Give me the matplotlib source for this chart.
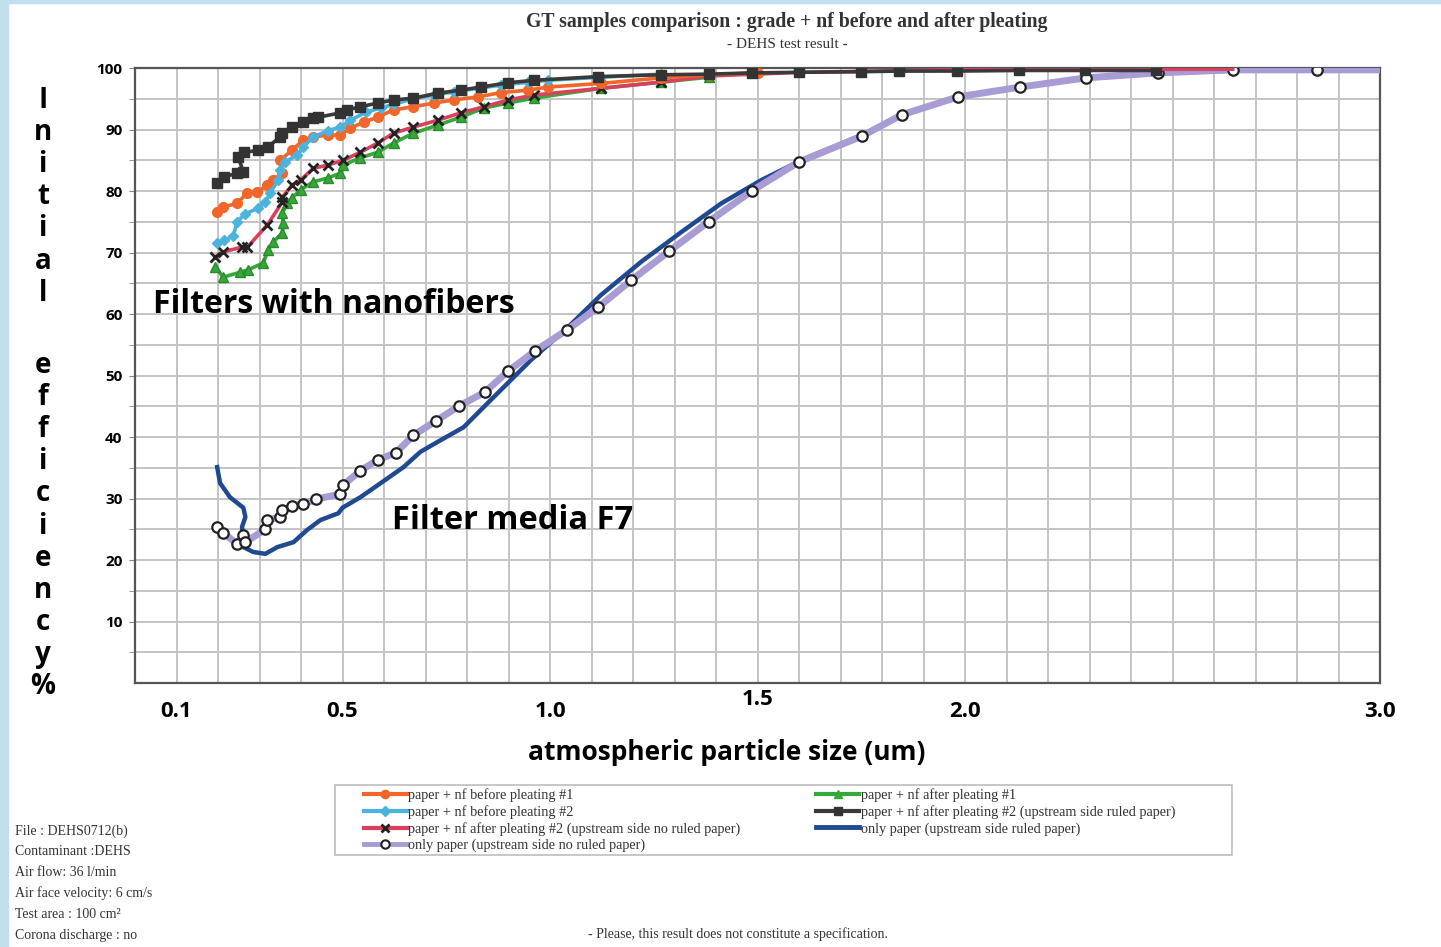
import matplotlib
matplotlib.use("Agg")
import matplotlib.pyplot as plt
from matplotlib.patches import Rectangle
from matplotlib.lines import Line2D

# data (x = particle size um, y = efficiency %)
orange_x = [0.198, 0.213, 0.246, 0.271, 0.295, 0.319, 0.333, 0.355, 0.350, 0.379, 0.406, 0.430,
            0.464, 0.495, 0.519, 0.551, 0.585, 0.623, 0.671, 0.720, 0.768, 0.826, 0.882, 0.947,
            0.995, 1.123, 1.268, 1.382, 1.50]
orange_y = [76.6, 77.4, 78.0, 79.7, 79.8, 81.0, 81.8, 82.9, 85.0, 86.7, 88.3, 88.8,
            89.1, 89.1, 90.2, 91.2, 92.0, 93.2, 93.7, 94.3, 94.8, 95.3, 96.0, 96.4,
            96.9, 97.5, 98.4, 98.9, 99.2]

cyan_x = [0.198, 0.215, 0.237, 0.246, 0.266, 0.297, 0.314, 0.326, 0.345, 0.350, 0.362, 0.391,
          0.406, 0.430, 0.464, 0.495, 0.519, 0.556, 0.592, 0.623, 0.671, 0.720, 0.768, 0.826,
          0.882, 0.947, 0.995, 1.123, 1.268]
cyan_y = [71.5, 72.0, 72.7, 75.0, 76.3, 77.2, 78.2, 79.7, 81.8, 83.4, 84.7, 85.9,
          87.2, 88.8, 89.8, 90.4, 91.5, 92.8, 93.5, 94.1, 95.0, 95.6, 96.1, 96.7,
          97.2, 97.7, 98.0, 98.5, 99.0]

crimson_x = [0.193, 0.213, 0.258, 0.271, 0.319, 0.355, 0.355, 0.379, 0.399, 0.430, 0.464, 0.502,
             0.543, 0.585, 0.623, 0.671, 0.729, 0.785, 0.841, 0.899, 0.961, 1.123, 1.268, 1.382,
             1.606, 1.98, 2.30, 2.645]
crimson_y = [69.3, 70.1, 70.9, 70.9, 74.5, 78.2, 79.0, 81.0, 81.8, 83.7, 84.2, 85.0,
             86.3, 87.8, 89.4, 90.4, 91.5, 92.7, 93.7, 94.8, 95.6, 96.7, 97.7, 98.7,
             99.3, 99.7, 99.8, 99.8]

green_x = [0.193, 0.213, 0.254, 0.273, 0.309, 0.321, 0.333, 0.355, 0.357, 0.355, 0.367, 0.379,
           0.399, 0.430, 0.464, 0.495, 0.502, 0.543, 0.585, 0.623, 0.671, 0.729, 0.785, 0.841,
           0.899, 0.961, 1.123, 1.268, 1.382]
green_y = [67.6, 66.0, 66.8, 67.2, 68.3, 70.4, 71.7, 73.2, 74.8, 76.4, 78.0, 78.9,
           80.2, 81.5, 82.1, 82.9, 84.2, 85.4, 86.3, 87.8, 89.4, 90.7, 92.0, 93.5,
           94.3, 95.1, 96.7, 97.7, 98.5]

black_x = [0.198, 0.215, 0.246, 0.261, 0.249, 0.263, 0.297, 0.321, 0.350, 0.355, 0.379, 0.406,
           0.430, 0.442, 0.495, 0.512, 0.543, 0.585, 0.623, 0.671, 0.729, 0.785, 0.833, 0.899,
           0.961, 1.116, 1.268, 1.382, 1.486, 1.60, 1.75, 1.84, 1.98, 2.13, 2.29, 2.46]
black_y = [81.3, 82.3, 82.9, 83.1, 85.5, 86.3, 86.6, 87.2, 88.8, 89.4, 90.4, 91.2,
           91.9, 92.0, 92.7, 93.2, 93.7, 94.3, 94.8, 95.1, 95.9, 96.4, 96.9, 97.6,
           98.0, 98.6, 98.9, 99.0, 99.2, 99.3, 99.4, 99.5, 99.5, 99.6, 99.6, 99.6]

purple_x = [0.198, 0.213, 0.246, 0.261, 0.266, 0.314, 0.319, 0.350, 0.355, 0.379, 0.406, 0.437,
            0.493, 0.502, 0.543, 0.585, 0.628, 0.671, 0.725, 0.780, 0.843, 0.899, 0.964, 1.041,
            1.116, 1.196, 1.287, 1.382, 1.486, 1.599, 1.751, 1.848, 1.983, 2.133, 2.292, 2.464,
            2.645, 2.848, 3.0]
purple_y = [25.4, 24.4, 22.6, 24.1, 22.9, 25.0, 26.5, 27.0, 28.1, 28.8, 29.1, 29.9,
            30.7, 32.2, 34.5, 36.3, 37.4, 40.3, 42.6, 45.0, 47.3, 50.7, 54.0, 57.4,
            61.1, 65.5, 70.2, 75.0, 80.0, 84.7, 88.9, 92.4, 95.3, 96.9, 98.4, 99.2,
            99.7, 99.7, 99.7]

blue_x = [0.198, 0.205, 0.229, 0.261, 0.266, 0.258, 0.261, 0.285, 0.314, 0.343, 0.382, 0.415,
          0.447, 0.490, 0.500, 0.543, 0.592, 0.647, 0.688, 0.737, 0.792, 0.857, 0.954, 1.041,
          1.123, 1.220, 1.316, 1.413, 1.510, 1.606, 1.751, 1.85, 1.98, 2.13, 2.29, 2.46, 2.65, 3.0]
blue_y = [35.1, 32.5, 30.2, 28.5, 27.0, 25.4, 22.1, 21.3, 21.0, 22.1, 22.9, 24.9,
          26.5, 27.6, 28.5, 30.2, 32.5, 35.1, 37.6, 39.5, 41.6, 46.0, 52.5, 57.7,
          63.1, 68.5, 73.3, 78.0, 81.8, 85.0, 89.1, 92.3, 95.2, 96.9, 98.3, 99.1, 99.6, 99.7]

xtick_vals = [0.1, 0.5, 1.0, 1.5, 2.0, 3.0]
xtick_labels = ["0.1", "0.5", "1.0", "1.5", "2.0", "3.0"]
ytick_vals = [10, 20, 30, 40, 50, 60, 70, 80, 90, 100]

legend_labels = [
    "paper + nf before pleating #1",
    "paper + nf before pleating #2",
    "paper + nf after pleating #2 (upstream side no ruled paper)",
    "only paper (upstream side no ruled paper)",
    "paper + nf after pleating #1",
    "paper + nf after pleating #2 (upstream side ruled paper)",
    "only paper (upstream side ruled paper)",
]

info_lines = ["File : DEHS0712(b)", "Contaminant :DEHS", "Air flow: 36 l/min",
              "Air face velocity: 6 cm/s", "Test area : 100 cm\u00b2", "Corona discharge : no"]

W, H = 1441, 947
fig = plt.figure(figsize=(W / 100, H / 100), dpi=100)
fig.patch.set_facecolor("white")

# light blue border of the screenshot
fig.patches.append(Rectangle((0, 0), 8 / W, 1, transform=fig.transFigure, color="#bfe0ec", zorder=0))
fig.patches.append(Rectangle((0, 1 - 3 / H), 1, 3 / H, transform=fig.transFigure, color="#bfe0ec", zorder=0))

ax = fig.add_axes([135 / W, 1 - 683 / H, (1380 - 135) / W, (683 - 68) / H])
ax.set_xlim(0, 3.0)
ax.set_ylim(0, 100)

# grid every 0.1 / 5
for gx in [i / 10 for i in range(1, 30)]:
    ax.axvline(gx, color="#c4c4c4", lw=1.4, zorder=1)
for gy in range(5, 100, 5):
    ax.axhline(gy, color="#c4c4c4", lw=1.4, zorder=1)

lw = 2.6
ax.plot(purple_x, purple_y, color="#a99bd3", lw=5, zorder=3,
        marker="o", ms=7.5, mfc="white", mec="#222222", mew=1.6,
        markevery=list(range(len(purple_x) - 1)))
ax.plot(blue_x, blue_y, color="#1f4a92", lw=3.2, zorder=2.9)
ax.plot(green_x, green_y, color="#34a838", lw=lw, zorder=4,
        marker="^", ms=7, mfc="#34a838", mec="#2a8a2c")
ax.plot(crimson_x, crimson_y, color="#d9405e", lw=lw, zorder=4.2,
        marker="x", ms=7, mec="#222222", mew=2, markevery=list(range(23)))
ax.plot(orange_x, orange_y, color="#f2662a", lw=lw, zorder=4.4,
        marker="o", ms=7, mfc="#f2662a", mec="#f2662a")
ax.plot(cyan_x, cyan_y, color="#4cb3dc", lw=lw, zorder=4.6,
        marker="D", ms=5.5, mfc="#4cb3dc", mec="#4cb3dc")
ax.plot(black_x, black_y, color="#3a3a3a", lw=lw, zorder=4.8,
        marker="s", ms=7, mfc="#333333", mec="#333333")

for s in ax.spines.values():
    s.set_color("#555555")
    s.set_linewidth(1.6)

ax.set_xticks(xtick_vals)
ax.set_xticklabels(xtick_labels)
ax.set_yticks(ytick_vals)
ax.set_yticks(range(5, 100, 10), minor=True)
ax.tick_params(axis="x", length=0, pad=13, labelsize=16)
ax.tick_params(axis="y", which="both", length=4, color="#888888", pad=5, labelsize=11)
for lab in ax.get_xticklabels():
    lab.set_fontfamily("Open Sans")
    lab.set_fontweight("bold")
for lab in ax.get_yticklabels():
    lab.set_fontfamily("Open Sans")
    lab.set_fontweight("bold")
ax.xaxis.get_major_ticks()[3].set_pad(4)

fig.text(727 / W, 1 - 752 / H, "atmospheric particle size (um)", fontfamily="Open Sans",
         fontweight="bold", fontsize=19, ha="center", va="center")

ax.text(0.043, 61.5, "Filters with nanofibers", fontfamily="Open Sans", fontweight="bold",
        fontsize=23, va="center", ha="left", zorder=6)
ax.text(0.62, 26.5, "Filter media F7", fontfamily="Open Sans", fontweight="bold",
        fontsize=23.5, va="center", ha="left", zorder=6)

# stacked vertical y label
step = 32.2
for word, y0 in [("Initial", 100), ("efficiency%", 365)]:
    for i, ch in enumerate(word):
        fig.text(43 / W, 1 - (y0 + i * step) / H, ch, fontfamily="Open Sans", fontweight="bold",
                 fontsize=20, ha="center", va="center")

# title
fig.text(787 / W, 1 - 22 / H, "GT samples comparison : grade + nf before and after pleating",
         fontfamily="Liberation Serif", fontweight="bold", fontsize=14.2, color="#333333",
         ha="center", va="center")
fig.text(787 / W, 1 - 45 / H, "- DEHS test result -", fontfamily="Liberation Serif",
         fontsize=11, color="#333333", ha="center", va="center")

# legend
fig.patches.append(Rectangle((335 / W, 1 - 855 / H), (1232 - 335) / W, 70 / H,
                             transform=fig.transFigure, fill=False, ec="#bdbdbd", lw=1.2))
handles = [
    Line2D([], [], color="#f2662a", lw=3, marker="o", ms=6, mfc="#f2662a", mec="#f2662a"),
    Line2D([], [], color="#4cb3dc", lw=3, marker="D", ms=5, mfc="#4cb3dc", mec="#4cb3dc"),
    Line2D([], [], color="#d9405e", lw=3, marker="x", ms=6, mec="#222222", mew=2),
    Line2D([], [], color="#a99bd3", lw=3.5, marker="o", ms=6, mfc="white", mec="#222222", mew=1.5),
    Line2D([], [], color="#34a838", lw=3, marker="^", ms=6, mfc="#34a838", mec="#34a838"),
    Line2D([], [], color="#3a3a3a", lw=3, marker="s", ms=6, mfc="#333333", mec="#333333"),
    Line2D([], [], color="#1f4a92", lw=3.5),
]
fig.legend(handles, legend_labels, loc="upper left", bbox_to_anchor=(364 / W, 1 - 788 / H),
           ncol=2, frameon=False, prop={"family": "Liberation Serif", "size": 10.3},
           handlelength=3.0, handletextpad=0.1, labelspacing=0.22, columnspacing=5.3,
           borderaxespad=0, borderpad=0, labelcolor="#333333")

for i, line in enumerate(info_lines):
    fig.text(15 / W, 1 - (831 + i * 20.8) / H, line, fontfamily="Liberation Serif",
             fontsize=10, color="#333333", ha="left", va="center")

fig.text(738 / W, 1 - 934 / H, "- Please, this result does not constitute a specification.",
         fontfamily="Liberation Serif", fontsize=10, color="#333333", ha="center", va="center")

fig.savefig("out.png", dpi=100)
